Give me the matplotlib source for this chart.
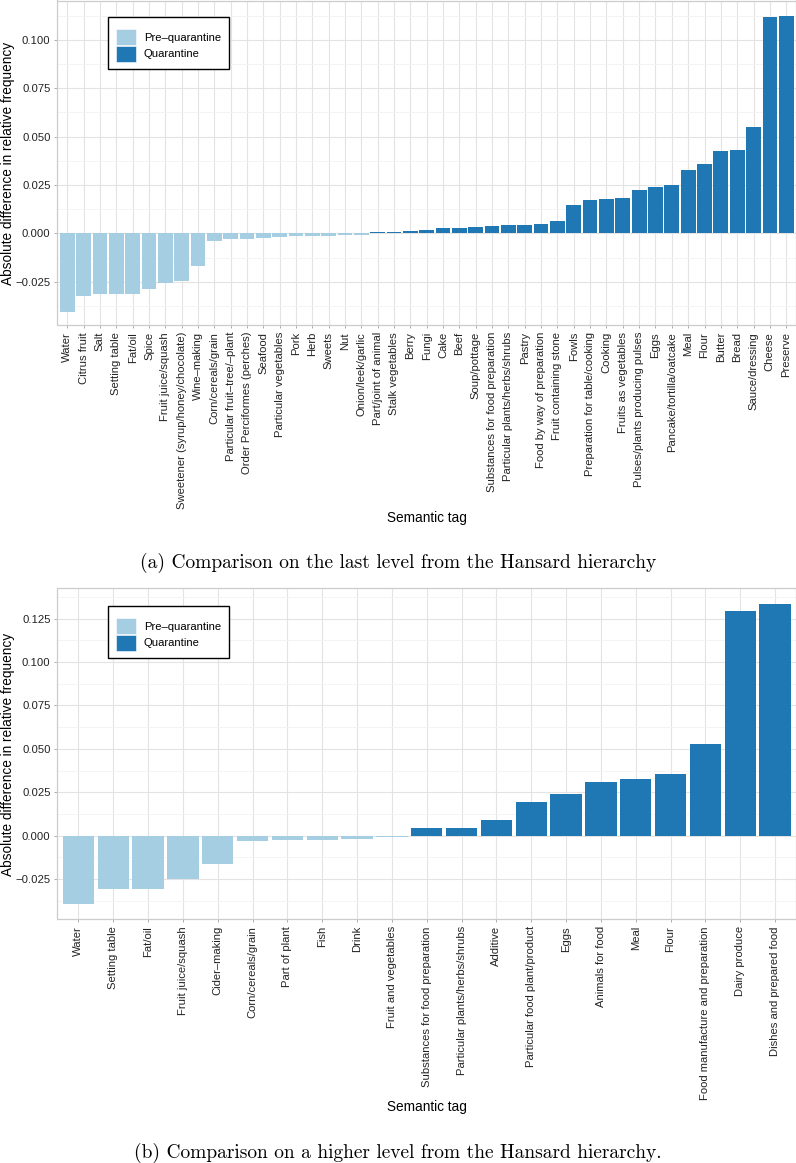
import matplotlib
matplotlib.use('Agg')
import matplotlib.pyplot as plt
import numpy as np
from matplotlib.patches import Patch
from matplotlib.ticker import FixedLocator, FuncFormatter

plt.rcParams['font.family'] = ['Liberation Sans', 'DejaVu Sans']

# (a) last level of the Hansard hierarchy
top_tags = [
    'Water', 'Citrus fruit', 'Salt', 'Setting table', 'Fat/oil', 'Spice',
    'Fruit juice/squash', 'Sweetener (syrup/honey/chocolate)', 'Wine\u2013making',
    'Corn/cereals/grain', 'Particular fruit\u2013tree/\u2013plant',
    'Order Perciformes (perches)', 'Seafood', 'Particular vegetables', 'Pork',
    'Herb', 'Sweets', 'Nut', 'Onion/leek/garlic', 'Part/joint of animal',
    'Stalk vegetables', 'Berry', 'Fungi', 'Cake', 'Beef', 'Soup/pottage',
    'Substances for food preparation', 'Particular plants/herbs/shrubs', 'Pastry',
    'Food by way of preparation', 'Fruit containing stone', 'Fowls',
    'Preparation for table/cooking', 'Cooking', 'Fruits as vegetables',
    'Pulses/plants producing pulses', 'Eggs', 'Pancake/tortilla/oatcake', 'Meal',
    'Flour', 'Butter', 'Bread', 'Sauce/dressing', 'Cheese', 'Preserve',
]
top_vals = [
    -0.0404, -0.0321, -0.0314, -0.0314, -0.0311, -0.0289, -0.0254, -0.0247,
    -0.0167, -0.0038, -0.0031, -0.0029, -0.0024, -0.0017, -0.0015, -0.0014,
    -0.0012, -0.0009, -0.0007, 0.0005, 0.0006, 0.0015, 0.0016, 0.0026, 0.0027,
    0.0031, 0.0038, 0.0041, 0.0046, 0.0048, 0.0064, 0.0149, 0.0172, 0.0177,
    0.0182, 0.0222, 0.0239, 0.0251, 0.0325, 0.0356, 0.0424, 0.0433, 0.0548,
    0.1120, 0.1125,
]
top_yticks = [-0.025, 0.0, 0.025, 0.05, 0.075, 0.1]

# (b) higher level of the Hansard hierarchy
bot_tags = [
    'Water', 'Setting table', 'Fat/oil', 'Fruit juice/squash', 'Cider\u2013making',
    'Corn/cereals/grain', 'Part of plant', 'Fish', 'Drink', 'Fruit and vegetables',
    'Substances for food preparation', 'Particular plants/herbs/shrubs', 'Additive',
    'Particular food plant/product', 'Eggs', 'Animals for food', 'Meal', 'Flour',
    'Food manufacture and preparation', 'Dairy produce', 'Dishes and prepared food',
]
bot_vals = [
    -0.0395, -0.0309, -0.0305, -0.0247, -0.0163, -0.0033, -0.0025, -0.0025,
    -0.0017, -0.0005, 0.0042, 0.0044, 0.0090, 0.0194, 0.0243, 0.0312, 0.0328,
    0.0358, 0.0529, 0.1296, 0.1334,
]
bot_yticks = [-0.025, 0.0, 0.025, 0.05, 0.075, 0.1, 0.125]

PRE = '#a6cee3'
QUAR = '#1f78b4'
W, H = 796, 1163


def fmt(v, pos):
    return f'{v:.3f}'.replace('-', '\u2212')


def draw(ax, tags, vals, ylim, yticks, legend_top):
    x = np.arange(len(tags))
    colors = [PRE if v < 0 else QUAR for v in vals]
    ax.bar(x, vals, width=0.9, color=colors, linewidth=0, zorder=3)
    ax.set_xlim(-0.6, len(tags) - 0.4)
    ax.set_ylim(*ylim)
    ax.set_xticks(x)
    ax.set_xticklabels(tags, rotation=90, va='top', ha='center')
    ax.set_yticks(yticks)
    minors = [t + 0.0125 for t in [yticks[0] - 0.025] + yticks]
    ax.yaxis.set_minor_locator(FixedLocator(minors))
    ax.yaxis.set_major_formatter(FuncFormatter(fmt))
    ax.set_axisbelow(True)
    ax.grid(which='major', color='#e3e3e3', linewidth=0.8)
    ax.grid(which='minor', axis='y', color='#f3f3f3', linewidth=0.6)
    ax.tick_params(which='major', length=2.5, width=0.6, color='#a0a0a0',
                   labelsize=8.1, pad=2.5, labelcolor='#222222')
    ax.tick_params(which='minor', length=0)
    for s in ax.spines.values():
        s.set_color('#cccccc')
        s.set_linewidth(0.9)
    handles = [Patch(facecolor=PRE, edgecolor='white', linewidth=0.4, label='Pre\u2013quarantine'),
               Patch(facecolor=QUAR, edgecolor='white', linewidth=0.4, label='Quarantine')]
    leg = ax.legend(handles=handles, loc='upper left',
                    bbox_to_anchor=(50.5 / 738.5, legend_top), borderaxespad=0,
                    fontsize=8.1, frameon=True, fancybox=False, edgecolor='black',
                    handlelength=1.78, handleheight=1.78, handletextpad=0.7,
                    labelspacing=0.05, borderpad=0.7, title=' ', title_fontsize=3)
    leg.get_frame().set_linewidth(1.0)
    leg.get_frame().set_alpha(1)


fig = plt.figure(figsize=(W / 100, H / 100), dpi=100)

ax1 = fig.add_axes([57.5 / W, 1 - 325 / H, 738.5 / W, 324.5 / H])
draw(ax1, top_tags, top_vals, (-0.0473, 0.1203), top_yticks, 1 - 16.5 / 324.5)

ax2 = fig.add_axes([57.5 / W, 1 - 919.3 / H, 738.5 / W, 331 / H])
draw(ax2, bot_tags, bot_vals, (-0.0481, 0.1424), bot_yticks, 1 - 17.7 / 331)

ylab = 'Absolute difference in relative frequency'
fig.text(8 / W, 1 - 163 / H, ylab, rotation=90, ha='center', va='center', fontsize=9.8)
fig.text(8 / W, 1 - 754 / H, ylab, rotation=90, ha='center', va='center', fontsize=9.8)
fig.text(426.7 / W, 1 - 518 / H, 'Semantic tag', ha='center', va='center', fontsize=9.8)
fig.text(426.7 / W, 1 - 1107 / H, 'Semantic tag', ha='center', va='center', fontsize=9.8)

fig.text(398 / W, 1 - 563 / H, '(a) Comparison on the last level from the Hansard hierarchy',
         family='cmr10', ha='center', va='center', fontsize=14)
fig.text(398 / W, 1 - 1153 / H, '(b) Comparison on a higher level from the Hansard hierarchy.',
         family='cmr10', ha='center', va='center', fontsize=14)

fig.savefig('out.png', dpi=100)
